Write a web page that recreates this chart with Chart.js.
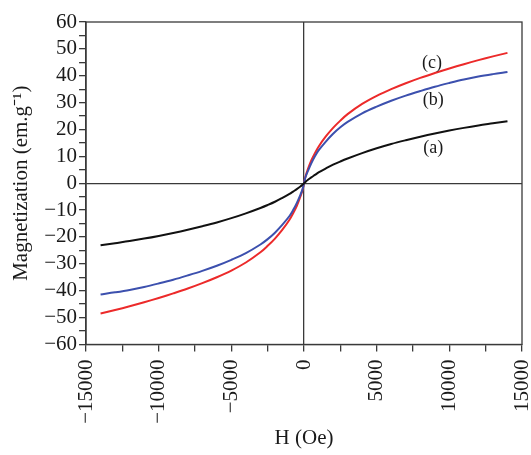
<!DOCTYPE html>
<html>
<head>
<meta charset="utf-8">
<script src="https://cdn.jsdelivr.net/npm/chart.js@4/dist/chart.umd.min.js"></script>
<style>
  html, body { margin: 0; padding: 0; background: #fff; }
  #wrap { width: 531px; height: 455px; }
</style>
</head>
<body>
<div id="wrap"><canvas id="myChart"></canvas></div>
<script>
// field values (Oe)
const fieldH = [-14000, -13000, -12000, -11000, -10000, -9000, -8000, -7000, -6000, -5000, -4000, -3000, -2500, -2000, -1500, -1000, -750, -500, -250, -100, 0,
                100, 250, 500, 750, 1000, 1500, 2000, 2500, 3000, 4000, 5000, 6000, 7000, 8000, 9000, 10000, 11000, 12000, 13000, 14000];
// magnetization curves (em.g-1)
const curveA = [-23.1, -22.3, -21.5, -20.6, -19.6, -18.5, -17.3, -16.0, -14.6, -13.0, -11.2, -9.2, -8.1, -6.9, -5.5, -4.0, -3.1, -2.2, -1.2, -0.5, 0,
                0.5, 1.2, 2.2, 3.1, 4.0, 5.5, 6.9, 8.1, 9.2, 11.2, 13.0, 14.6, 16.0, 17.3, 18.5, 19.6, 20.6, 21.5, 22.3, 23.1];
const curveB = [-41.4, -40.6, -39.7, -38.6, -37.3, -35.9, -34.3, -32.6, -30.7, -28.5, -26.0, -22.8, -20.8, -18.4, -15.5, -12.2, -10.0, -7.4, -4.3, -2.2, 0,
                2.2, 4.3, 7.4, 10.0, 12.2, 15.5, 18.4, 20.8, 22.8, 26.0, 28.5, 30.7, 32.6, 34.3, 35.9, 37.3, 38.6, 39.7, 40.6, 41.4];
const curveC = [-48.5, -47.2, -45.8, -44.3, -42.7, -41.0, -39.2, -37.2, -35.0, -32.5, -29.5, -25.7, -23.3, -20.6, -17.4, -13.6, -11.2, -8.5, -5.0, -2.5, 0,
                2.5, 5.0, 8.5, 11.2, 13.6, 17.4, 20.6, 23.3, 25.7, 29.5, 32.5, 35.0, 37.2, 39.2, 41.0, 42.7, 44.3, 45.8, 47.2, 48.5];
const curveNames = ['(a)', '(b)', '(c)'];
const labelAt = [[8900, 13.1], [8900, 30.7], [8800, 44.7]];

const serif = "'Liberation Serif', 'Times New Roman', serif";
const axisCol = '#3a3a3a';

function pts(ys) {
    return fieldH.map((h, i) => ({ x: h, y: ys[i] }));
}
function minus(v) {
    return String(v).replace('-', '\u2212');
}

// box round the plot + curve names
const frame = {
    id: 'frame',
    afterDatasetsDraw(chart) {
        const c = chart.ctx, a = chart.chartArea;
        const xs = chart.scales.x, ys = chart.scales.y;
        c.save();
        c.strokeStyle = axisCol;
        c.lineWidth = 1.3;
        c.strokeRect(a.left, a.top, a.right - a.left, a.bottom - a.top);
        c.fillStyle = '#1a1a1a';
        c.font = '18px ' + serif;
        c.textAlign = 'center';
        c.textBaseline = 'middle';
        curveNames.forEach((n, i) => {
            c.fillText(n, xs.getPixelForValue(labelAt[i][0]), ys.getPixelForValue(labelAt[i][1]));
        });
        c.restore();
    }
};

const ctx = document.getElementById('myChart').getContext('2d');
const myChart = new Chart(ctx, {
    type: 'line',
    data: {
        datasets: [
            { label: '(a)', data: pts(curveA), borderColor: '#111111', borderWidth: 2 },
            { label: '(b)', data: pts(curveB), borderColor: '#3c50ae', borderWidth: 2 },
            { label: '(c)', data: pts(curveC), borderColor: '#ec2a2a', borderWidth: 2 }
        ]
    },
    options: {
        responsive: true,
        maintainAspectRatio: false,
        animation: false,
        layout: { padding: { top: 22, right: 0, left: 9, bottom: 4 } },
        elements: {
            point: { radius: 0 },
            line: { tension: 0.35 }
        },
        plugins: {
            legend: { display: false },
            tooltip: { enabled: false }
        },
        scales: {
            x: {
                type: 'linear',
                min: -15000,
                max: 15000,
                afterFit: s => { s.paddingRight = 9; },
                border: { display: true, color: axisCol, width: 1.3 },
                grid: {
                    color: c => c.tick && c.tick.value === 0 ? axisCol : 'rgba(0,0,0,0)',
                    tickColor: axisCol,
                    tickLength: 7,
                    lineWidth: 1.3
                },
                ticks: {
                    stepSize: 2500,
                    autoSkip: false,
                    minRotation: 90,
                    maxRotation: 90,
                    color: '#1a1a1a',
                    font: { family: serif, size: 21 },
                    padding: 8,
                    callback: v => v % 5000 === 0 ? minus(v) : ''
                },
                title: {
                    display: true,
                    text: 'H (Oe)',
                    color: '#1a1a1a',
                    font: { family: serif, size: 21 },
                    padding: { top: -6, bottom: 0 }
                }
            },
            y: {
                min: -60,
                max: 60,
                border: { display: true, color: axisCol, width: 1.3 },
                grid: {
                    color: c => c.tick && c.tick.value === 0 ? axisCol : 'rgba(0,0,0,0)',
                    tickColor: axisCol,
                    tickLength: 7,
                    lineWidth: 1.3
                },
                ticks: {
                    stepSize: 5,
                    autoSkip: false,
                    color: '#1a1a1a',
                    font: { family: serif, size: 21 },
                    padding: 2,
                    callback: v => v % 10 === 0 ? minus(v) : ''
                },
                title: {
                    display: true,
                    text: 'Magnetization (em.g\u207B\u00B9)',
                    color: '#1a1a1a',
                    font: { family: serif, size: 21 },
                    padding: { top: 0, bottom: 8 }
                }
            }
        }
    },
    plugins: [frame]
});
</script>
</body>
</html>
